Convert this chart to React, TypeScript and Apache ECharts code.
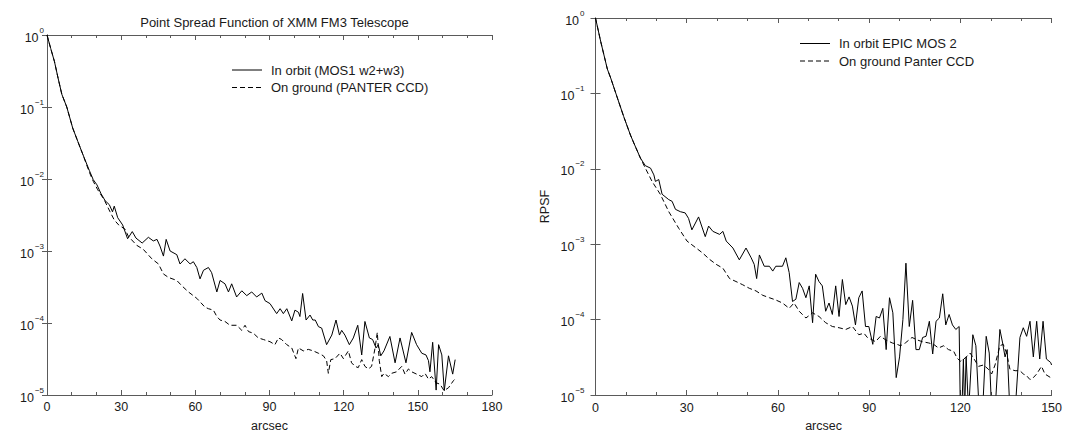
import React, { useEffect, useRef } from "react";
import * as echarts from "echarts";

// [arcsec, PSF] readings
const leftOrbit = [[0,1.0],[1.5,0.65],[3,0.43],[4.5,0.25],[6,0.15],[8,0.1],[10.4,0.051],[12.5,0.033],[14.4,0.0224],[17.1,0.0132],[18.7,0.0098],[20.2,0.0083],[21.8,0.0063],[23.5,0.005],[25.2,0.0044],[26.5,0.0035],[27.2,0.0042],[28.6,0.0029],[30.6,0.0023],[32.6,0.00148],[34.5,0.00186],[36,0.00151],[38.5,0.00129],[41,0.00155],[43,0.00138],[44.5,0.00145],[45.7,0.00117],[47.1,0.00085],[48.2,0.00145],[49.8,0.001],[52.5,0.00089],[53.8,0.00066],[55.8,0.00078],[57.9,0.00066],[59.2,0.00071],[60.6,0.00059],[61.9,0.00041],[63.3,0.00054],[65.3,0.00059],[66.6,0.0005],[68.7,0.00027],[70,0.00039],[72,0.00035],[73.4,0.00027],[74.7,0.00035],[76.7,0.00023],[78.8,0.00028],[80.8,0.00024],[82.8,0.00027],[84.8,0.00023],[86.9,0.00026],[88.2,0.000204],[90.2,0.000186],[92.9,0.000135],[94.3,0.000158],[95.6,0.000135],[97,0.000158],[99,0.000107],[100.3,0.000151],[101.7,0.000141],[102.3,0.000123],[103.4,0.000257],[104.8,0.00011],[106.4,0.000129],[107.5,0.00011],[108.5,0.00011],[109.8,8.9e-5],[111.1,8.5e-5],[113.1,5.0e-5],[115.2,6.8e-5],[116.9,1.1e-4],[118.3,6.8e-5],[119.2,7.9e-5],[120.5,6.8e-5],[122.3,5.0e-5],[123.9,6.2e-5],[125.7,9.3e-5],[127.3,3.6e-5],[128.6,1.05e-4],[130.4,6.2e-5],[131.7,5.9e-5],[133.1,4.5e-5],[134,5.0e-5],[135,3.5e-5],[136.3,4.1e-5],[138.7,6.5e-5],[140.8,2.8e-5],[142.8,6.2e-5],[145.2,2.8e-5],[147.5,7.4e-5],[149.5,5.0e-5],[151.6,3.8e-5],[153.3,3.6e-5],[154.3,3.0e-5],[154.9,2.1e-5],[156,5.4e-5],[157.4,1.17e-5],[158.4,5.0e-5],[159.7,3.6e-5],[160.7,1.15e-5],[162.4,3.5e-5],[164.1,1.95e-5],[165.1,3.1e-5]];

const leftGround = [[0,1.0],[1.5,0.65],[3,0.43],[4.5,0.25],[6,0.15],[8,0.1],[10.4,0.051],[12.5,0.033],[14.4,0.0224],[17.1,0.0125],[18.7,0.0093],[20.5,0.0071],[23.2,0.0051],[25.5,0.0035],[27.2,0.0027],[29,0.0023],[31.6,0.002],[32.9,0.0016],[36.3,0.0012],[39,0.00105],[42.4,0.00078],[45.1,0.00066],[47.1,0.00048],[49.1,0.00043],[52.5,0.00039],[54.5,0.00033],[57.2,0.00027],[60.6,0.00022],[63.9,0.000166],[65.3,0.000158],[67.3,0.000151],[68.7,0.000123],[70,0.00011],[72,0.000105],[74,0.000093],[76.7,0.000093],[78.8,0.000079],[80.1,0.000093],[81.5,0.000076],[83.5,0.000072],[85.5,0.000062],[87.5,0.000059],[90.2,0.000055],[92.2,0.00005],[93.6,0.000062],[94.9,0.000059],[97,0.00005],[99,0.000045],[100.7,0.000032],[101.7,0.000045],[103.7,0.000041],[105.7,0.000043],[107.7,0.000041],[109.8,0.000038],[111.8,0.000035],[113.1,0.00003],[113.8,0.00002],[114.8,0.000031],[116.5,0.000032],[118.5,0.000038],[119.9,0.000032],[121.9,0.000041],[123.2,0.000028],[124.6,0.000025],[125.9,0.000024],[127.3,0.000031],[128.6,0.000025],[130,0.000023],[131.3,0.000025],[132.7,0.000045],[133.6,0.000074],[134.4,0.00003],[135.4,0.000018],[136.3,0.00002],[138.1,0.000018],[139.4,0.00002],[141.4,0.000021],[143.5,0.000025],[144.8,0.0000195],[146.2,0.000023],[147.5,0.000021],[149.5,0.0000195],[151.6,0.000018],[152.9,0.00002],[154.3,0.0000166],[155.6,0.000018],[157.4,0.0000148],[159,0.0000141],[160.6,0.0000115],[162.4,0.0000126],[164.4,0.0000158],[165,0.0000166]];

const rightOrbit = [[0,1.0],[1.7,0.49],[3.9,0.21],[5,0.16],[7.2,0.087],[9.3,0.049],[11.5,0.028],[12.6,0.022],[14.8,0.0138],[16.4,0.011],[18.1,0.0102],[19.2,0.0083],[19.7,0.0068],[20.8,0.0072],[21.9,0.0046],[24.1,0.0039],[25.2,0.0037],[26.3,0.0029],[27.9,0.0027],[29.5,0.0026],[30.6,0.0022],[31.7,0.00155],[33.9,0.0023],[36.1,0.00126],[37.2,0.00174],[38.6,0.00148],[40.8,0.00135],[41.9,0.00148],[43,0.0011],[45.2,0.00089],[47.3,0.00062],[49.5,0.00089],[51.2,0.00066],[52.2,0.00054],[53,0.00035],[53.9,0.00072],[55.5,0.00051],[57.2,0.00051],[58.3,0.00044],[59.3,0.00051],[61.5,0.00051],[62.6,0.00066],[63.7,0.00042],[64.8,0.000174],[65.9,0.000186],[67,0.00031],[68.1,0.00026],[69.2,0.000195],[70.3,0.00028],[71.4,0.000091],[72.4,0.0004],[73.5,0.00032],[74.6,0.00028],[75.7,0.000129],[76.8,0.000166],[77.9,0.000117],[79,0.00028],[80.1,0.00011],[81.2,0.00034],[82.3,0.000158],[83.4,0.0002],[84.5,0.000151],[85.5,0.000085],[86.6,0.000195],[87.7,0.00024],[88.8,0.000081],[89.9,0.000081],[91.2,0.000047],[92.3,0.00011],[93.4,0.000105],[94.5,0.000141],[95.6,0.00004],[96.7,0.000195],[97.8,0.000123],[98.9,0.000017],[100,0.000032],[101.1,0.0001],[102.1,0.00056],[103.2,0.000081],[104.3,0.00018],[105.4,0.00004],[106.5,0.00004],[107.6,0.000058],[108.7,0.00006],[109.8,0.000095],[110.9,0.000035],[112,0.000095],[113.1,0.000105],[114.2,0.00022],[115.2,0.000085],[116.3,0.000117],[117.4,0.000085],[118.5,0.000074],[119.6,0.000081],[120,0.000006],[120.5,0.000006],[121,0.00003],[121.4,0.000006],[121.9,0.000032],[122.7,0.000006],[124.1,0.000063],[125.1,0.000045],[126.2,0.000006],[127.3,0.000006],[128.5,0.00006],[129.5,0.000036],[130.3,0.000006],[131.4,0.000006],[133,0.000074],[133.9,0.000049],[134.7,0.000032],[135.4,0.00004],[136.3,0.000006],[138,0.000006],[139.6,0.000058],[140.7,0.000078],[141.8,0.00006],[142.9,0.000095],[144,0.000032],[145.1,0.000095],[146.1,0.00003],[147.2,0.000095],[148.3,0.00003],[149.7,0.000027],[150,0.000025]];

const rightGround = [[0,1.0],[1.7,0.49],[3.9,0.21],[5,0.16],[7.2,0.087],[9.3,0.049],[11.5,0.028],[12.6,0.022],[14.8,0.0138],[16.4,0.0102],[18.6,0.0068],[21.3,0.0046],[24.1,0.0027],[27.4,0.00162],[30.1,0.0011],[33.1,0.00089],[35.3,0.00076],[37.5,0.00063],[39.7,0.00054],[41.9,0.00048],[44.1,0.00035],[46.2,0.00032],[48.4,0.00029],[50.6,0.00026],[52.8,0.00024],[55,0.00021],[57.2,0.000195],[59.3,0.000182],[61.5,0.000166],[63.7,0.000141],[65.3,0.000166],[67,0.000129],[69.2,0.000105],[71.4,0.000123],[73.5,0.00011],[75.7,0.000091],[77.9,0.000081],[80.1,0.000078],[82.3,0.000074],[84.5,0.000081],[86.6,0.000063],[88.3,0.000066],[89.4,0.000058],[92.1,0.000051],[93.7,0.00006],[95.4,0.000054],[97.6,0.000049],[99.2,0.000047],[100.3,0.000045],[101.9,0.000049],[104.1,0.000058],[105.7,0.000054],[107.4,0.000051],[109.6,0.000049],[111.2,0.000047],[112.8,0.000042],[114.5,0.000045],[116.1,0.00004],[117.8,0.000038],[118.9,0.000031],[120,0.000028],[121.6,0.000031],[123.2,0.000036],[124.3,0.000031],[126,0.000024],[127.6,0.000025],[129.2,0.000022],[130.3,0.000019],[131.4,0.000025],[133,0.000045],[134.1,0.000047],[135.2,0.000036],[136.3,0.000022],[138,0.000021],[139.6,0.000021],[140.7,0.000019],[141.8,0.000018],[142.9,0.000016],[144,0.000017],[145.1,0.000019],[146.7,0.000024],[147.8,0.000019],[149.7,0.000017]];

const leftNames = ["In orbit (MOS1 w2+w3)", "On ground (PANTER CCD)"];
const rightNames = ["In orbit EPIC MOS 2", "On ground Panter CCD"];
const titleText = "Point Spread Function of XMM FM3 Telescope";

export default function App() {
  const ref = useRef<HTMLDivElement>(null);
  useEffect(() => {
    const chart = echarts.init(ref.current!, null, { renderer: "svg" });
    const font = "'Liberation Sans', Arial, Helvetica, sans-serif";
    const axisColor = "#5a5a5a";
    const textColor = "#1a1a1a";
    const supFmt = (v: number) => {
      const e = Math.round(Math.log10(v));
      return `{b|10}{s|${e === 0 ? "0" : "\u2212" + -e}}`;
    };
    const rich = {
      b: { fontSize: 12.5, fontFamily: font, color: textColor, lineHeight: 18, verticalAlign: "bottom" },
      s: { fontSize: 8, fontFamily: font, color: textColor, lineHeight: 18, verticalAlign: "top", padding: [0, 0, 0, 1] },
    };
    const xAx = (grid: number, max: number, pos: string, labels: boolean, margin: number) => ({
      gridIndex: grid, type: "value", min: 0, max, interval: 30, position: pos,
      name: labels ? "arcsec" : "", nameLocation: "middle", nameGap: 24,
      nameTextStyle: { fontSize: 12.5, color: textColor, fontFamily: font },
      axisLine: { show: true, lineStyle: { color: axisColor, width: 1 } },
      axisTick: { show: true, inside: true, length: 5, lineStyle: { color: axisColor } },
      minorTick: { show: true, splitNumber: 3, length: 3, lineStyle: { color: axisColor } },
      axisLabel: { show: labels, margin, fontSize: 12.5, color: textColor, fontFamily: font },
      splitLine: { show: false },
    });
    const yAx = (grid: number, pos: string, labels: boolean, margin: number, name: string) => ({
      gridIndex: grid, type: "log", logBase: 10, min: 1e-5, max: 1, position: pos,
      name, nameLocation: "middle", nameGap: 44, nameRotate: 90,
      nameTextStyle: { fontSize: 12.5, color: textColor, fontFamily: font },
      axisLine: { show: true, lineStyle: { color: axisColor, width: 1 } },
      axisTick: { show: true, inside: true, length: 5, lineStyle: { color: axisColor } },
      minorTick: { show: false },
      axisLabel: { show: labels, margin, formatter: supFmt, rich },
      splitLine: { show: false },
    });
    const line = (name: string, data: number[][], xi: number, yi: number, dashed: boolean) => ({
      name, type: "line", data, xAxisIndex: xi, yAxisIndex: yi,
      symbol: "none", showSymbol: false, clip: true, smooth: false,
      lineStyle: { color: "#000", width: 1, type: dashed ? [5, 3] : "solid" },
      itemStyle: { color: "#000" },
    });
    const legendItem = (x: number, y: number, label: string, dashed: boolean) => [
      {
        type: "line", shape: { x1: x, y1: y, x2: x + 30, y2: y },
        style: { stroke: "#000", lineWidth: 1, lineDash: dashed ? [5, 3] : null },
      },
      {
        type: "text", x: x + 39, y,
        style: { text: label, fontSize: 13, fontFamily: font, fill: textColor, verticalAlign: "middle", align: "left" },
      },
    ];
    chart.setOption({
      animation: false,
      backgroundColor: "#fff",
      title: {
        text: titleText, left: 269.5, textAlign: "center", top: 11,
        textStyle: { fontSize: 13, fontWeight: "normal", color: textColor, fontFamily: font },
      },
      graphic: [
        ...legendItem(232, 70, leftNames[0], false),
        ...legendItem(232, 87.5, leftNames[1], true),
        ...legendItem(800, 43.5, rightNames[0], false),
        ...legendItem(800, 61, rightNames[1], true),
      ],
      grid: [
        { left: 47, top: 35, width: 445, height: 366 },
        { left: 595.5, top: 18, width: 457.5, height: 377.5 },
      ],
      xAxis: [
        xAx(0, 180, "bottom", true, 5),
        xAx(0, 180, "top", false, 5),
        xAx(1, 150, "bottom", true, 6),
        xAx(1, 150, "top", false, 5),
      ],
      yAxis: [
        yAx(0, "left", true, 3, ""),
        yAx(0, "right", false, 3, ""),
        yAx(1, "left", true, 11, "RPSF"),
        yAx(1, "right", false, 3, ""),
      ],
      series: [
        line(leftNames[0], leftOrbit, 0, 0, false),
        line(leftNames[1], leftGround, 0, 0, true),
        line(rightNames[0], rightOrbit, 2, 2, false),
        line(rightNames[1], rightGround, 2, 2, true),
      ],
    });
    return () => chart.dispose();
  }, []);
  return <div ref={ref} style={{ position: "absolute", left: 0, top: 0, width: 1065, height: 437 }} />;
}
